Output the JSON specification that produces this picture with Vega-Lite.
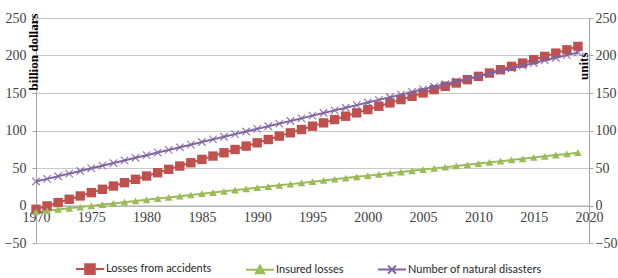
{
  "$schema": "https://vega.github.io/schema/vega-lite/v6.json",
  "width": 553,
  "height": 225,
  "autosize": "none",
  "padding": {"left": 36, "top": 18, "right": 29, "bottom": 35},
  "background": "white",
  "config": {
    "view": {"stroke": null},
    "axis": {
      "labelFont": "Liberation Serif",
      "labelFontSize": 14,
      "labelColor": "#404040",
      "titleFont": "Liberation Serif",
      "titleFontSize": 13,
      "titleFontWeight": "bold",
      "titleColor": "#000000"
    }
  },
  "data": {
    "values": [
      {"year": 1970, "Losses from accidents": -5.0, "Insured losses": -8.5, "Number of natural disasters": 32.0},
      {"year": 1971, "Losses from accidents": -0.6, "Insured losses": -6.9, "Number of natural disasters": 35.5},
      {"year": 1972, "Losses from accidents": 3.9, "Insured losses": -5.3, "Number of natural disasters": 39.0},
      {"year": 1973, "Losses from accidents": 8.3, "Insured losses": -3.7, "Number of natural disasters": 42.5},
      {"year": 1974, "Losses from accidents": 12.7, "Insured losses": -2.1, "Number of natural disasters": 46.0},
      {"year": 1975, "Losses from accidents": 17.2, "Insured losses": -0.5, "Number of natural disasters": 49.6},
      {"year": 1976, "Losses from accidents": 21.6, "Insured losses": 1.2, "Number of natural disasters": 53.1},
      {"year": 1977, "Losses from accidents": 26.0, "Insured losses": 2.8, "Number of natural disasters": 56.6},
      {"year": 1978, "Losses from accidents": 30.4, "Insured losses": 4.4, "Number of natural disasters": 60.1},
      {"year": 1979, "Losses from accidents": 34.9, "Insured losses": 6.0, "Number of natural disasters": 63.6},
      {"year": 1980, "Losses from accidents": 39.3, "Insured losses": 7.6, "Number of natural disasters": 67.1},
      {"year": 1981, "Losses from accidents": 43.7, "Insured losses": 9.2, "Number of natural disasters": 70.6},
      {"year": 1982, "Losses from accidents": 48.2, "Insured losses": 10.8, "Number of natural disasters": 74.1},
      {"year": 1983, "Losses from accidents": 52.6, "Insured losses": 12.4, "Number of natural disasters": 77.6},
      {"year": 1984, "Losses from accidents": 57.0, "Insured losses": 14.0, "Number of natural disasters": 81.1},
      {"year": 1985, "Losses from accidents": 61.5, "Insured losses": 15.7, "Number of natural disasters": 84.7},
      {"year": 1986, "Losses from accidents": 65.9, "Insured losses": 17.3, "Number of natural disasters": 88.2},
      {"year": 1987, "Losses from accidents": 70.3, "Insured losses": 18.9, "Number of natural disasters": 91.7},
      {"year": 1988, "Losses from accidents": 74.7, "Insured losses": 20.5, "Number of natural disasters": 95.2},
      {"year": 1989, "Losses from accidents": 79.2, "Insured losses": 22.1, "Number of natural disasters": 98.7},
      {"year": 1990, "Losses from accidents": 83.6, "Insured losses": 23.7, "Number of natural disasters": 102.2},
      {"year": 1991, "Losses from accidents": 88.0, "Insured losses": 25.3, "Number of natural disasters": 105.7},
      {"year": 1992, "Losses from accidents": 92.5, "Insured losses": 26.9, "Number of natural disasters": 109.2},
      {"year": 1993, "Losses from accidents": 96.9, "Insured losses": 28.5, "Number of natural disasters": 112.7},
      {"year": 1994, "Losses from accidents": 101.3, "Insured losses": 30.1, "Number of natural disasters": 116.2},
      {"year": 1995, "Losses from accidents": 105.8, "Insured losses": 31.8, "Number of natural disasters": 119.8},
      {"year": 1996, "Losses from accidents": 110.2, "Insured losses": 33.4, "Number of natural disasters": 123.3},
      {"year": 1997, "Losses from accidents": 114.6, "Insured losses": 35.0, "Number of natural disasters": 126.8},
      {"year": 1998, "Losses from accidents": 119.0, "Insured losses": 36.6, "Number of natural disasters": 130.3},
      {"year": 1999, "Losses from accidents": 123.5, "Insured losses": 38.2, "Number of natural disasters": 133.8},
      {"year": 2000, "Losses from accidents": 127.9, "Insured losses": 39.8, "Number of natural disasters": 137.3},
      {"year": 2001, "Losses from accidents": 132.3, "Insured losses": 41.4, "Number of natural disasters": 140.8},
      {"year": 2002, "Losses from accidents": 136.8, "Insured losses": 43.0, "Number of natural disasters": 144.3},
      {"year": 2003, "Losses from accidents": 141.2, "Insured losses": 44.6, "Number of natural disasters": 147.8},
      {"year": 2004, "Losses from accidents": 145.6, "Insured losses": 46.2, "Number of natural disasters": 151.3},
      {"year": 2005, "Losses from accidents": 150.1, "Insured losses": 47.9, "Number of natural disasters": 154.9},
      {"year": 2006, "Losses from accidents": 154.5, "Insured losses": 49.5, "Number of natural disasters": 158.4},
      {"year": 2007, "Losses from accidents": 158.9, "Insured losses": 51.1, "Number of natural disasters": 161.9},
      {"year": 2008, "Losses from accidents": 163.3, "Insured losses": 52.7, "Number of natural disasters": 165.4},
      {"year": 2009, "Losses from accidents": 167.8, "Insured losses": 54.3, "Number of natural disasters": 168.9},
      {"year": 2010, "Losses from accidents": 172.2, "Insured losses": 55.9, "Number of natural disasters": 172.4},
      {"year": 2011, "Losses from accidents": 176.6, "Insured losses": 57.5, "Number of natural disasters": 175.9},
      {"year": 2012, "Losses from accidents": 181.1, "Insured losses": 59.1, "Number of natural disasters": 179.4},
      {"year": 2013, "Losses from accidents": 185.5, "Insured losses": 60.7, "Number of natural disasters": 182.9},
      {"year": 2014, "Losses from accidents": 189.9, "Insured losses": 62.3, "Number of natural disasters": 186.4},
      {"year": 2015, "Losses from accidents": 194.4, "Insured losses": 64.0, "Number of natural disasters": 190.0},
      {"year": 2016, "Losses from accidents": 198.8, "Insured losses": 65.6, "Number of natural disasters": 193.5},
      {"year": 2017, "Losses from accidents": 203.2, "Insured losses": 67.2, "Number of natural disasters": 197.0},
      {"year": 2018, "Losses from accidents": 207.6, "Insured losses": 68.8, "Number of natural disasters": 200.5},
      {"year": 2019, "Losses from accidents": 212.1, "Insured losses": 70.4, "Number of natural disasters": 204.0}
    ]
  },
  "transform": [
    {"fold": ["Losses from accidents", "Insured losses", "Number of natural disasters"], "as": ["series", "value"]}
  ],
  "encoding": {
    "x": {
      "field": "year",
      "type": "quantitative",
      "scale": {"domain": [1970, 2020], "nice": false, "zero": false},
      "axis": {
        "values": [1970, 1975, 1980, 1985, 1990, 1995, 2000, 2005, 2010, 2015, 2020],
        "format": "d",
        "grid": false,
        "ticks": false,
        "offset": -37.5,
        "domainColor": "#a6a6a6",
        "labelPadding": 5,
        "labelFlush": false,
        "labelOverlap": false,
        "title": null
      }
    },
    "color": {
      "field": "series",
      "type": "nominal",
      "scale": {
        "domain": ["Losses from accidents", "Insured losses", "Number of natural disasters"],
        "range": ["#C0504D", "#9BBB59", "#8064A2"]
      },
      "legend": {
        "title": null,
        "orient": "none",
        "direction": "horizontal",
        "legendX": 39,
        "legendY": 236,
        "symbolSize": 784,
        "labelFont": "Lato",
        "labelFontSize": 11,
        "labelColor": "#262626",
        "labelOffset": 1,
        "columnPadding": 30,
        "encode": {
          "symbols": {
            "update": {
              "shape": {"signal": "datum.value === 'Losses from accidents' ? 'M-1,0H1M-0.34,-0.34H0.34V0.34H-0.34Z' : (datum.value === 'Insured losses' ? 'M-1,0H1M0,-0.3L0.3,0.24H-0.3Z' : 'M-1,0H1M-0.28,-0.28L0.28,0.28M-0.28,0.28L0.28,-0.28')"},
              "fill": {"signal": "scale('color', datum.value)"},
              "stroke": {"signal": "scale('color', datum.value)"},
              "strokeWidth": {"value": 2},
              "opacity": {"value": 1}
            }
          }
        }
      }
    }
  },
  "layer": [
    {
      "transform": [{"filter": "datum.series !== 'Number of natural disasters'"}],
      "encoding": {
        "y": {
          "field": "value",
          "type": "quantitative",
          "scale": {"domain": [-50, 250], "nice": false, "zero": false},
          "axis": {
            "orient": "left",
            "values": [-50, 0, 50, 100, 150, 200, 250],
            "grid": true,
            "gridColor": "#c8c8c8",
            "domainColor": "#a6a6a6",
            "tickColor": "#a6a6a6",
            "tickSize": 4,
            "labelPadding": 6,
            "title": "billion dollars",
            "titleAngle": -90,
            "titleX": 1,
            "titleY": -5,
            "titleAlign": "right",
            "titleBaseline": "alphabetic"
          }
        }
      },
      "layer": [
        {"mark": {"type": "line", "strokeWidth": 2}},
        {
          "mark": {"type": "point", "filled": true, "opacity": 1},
          "encoding": {
            "shape": {
              "field": "series",
              "type": "nominal",
              "scale": {"domain": ["Losses from accidents", "Insured losses"], "range": ["square", "triangle-up"]},
              "legend": null
            },
            "size": {
              "field": "series",
              "type": "ordinal",
              "scale": {"domain": ["Losses from accidents", "Insured losses"], "range": [88, 60]},
              "legend": null
            }
          }
        }
      ]
    },
    {
      "transform": [{"filter": "datum.series === 'Number of natural disasters'"}],
      "encoding": {
        "y": {
          "field": "value",
          "type": "quantitative",
          "scale": {"domain": [-50, 250], "nice": false, "zero": false},
          "axis": {
            "orient": "right",
            "values": [-50, 0, 50, 100, 150, 200, 250],
            "grid": false,
            "domainColor": "#a6a6a6",
            "tickColor": "#a6a6a6",
            "tickSize": 4,
            "labelPadding": 2,
            "title": "units",
            "titleAngle": -90,
            "titleX": -2,
            "titleY": 34,
            "titleAlign": "right",
            "titleBaseline": "alphabetic"
          }
        }
      },
      "layer": [
        {"mark": {"type": "line", "strokeWidth": 2}},
        {
          "mark": {"type": "point", "filled": false, "shape": "M-1,-1L1,1M-1,1L1,-1", "size": 56, "strokeWidth": 1.2, "opacity": 0.85}
        }
      ]
    }
  ],
  "resolve": {"scale": {"y": "independent"}}
}
